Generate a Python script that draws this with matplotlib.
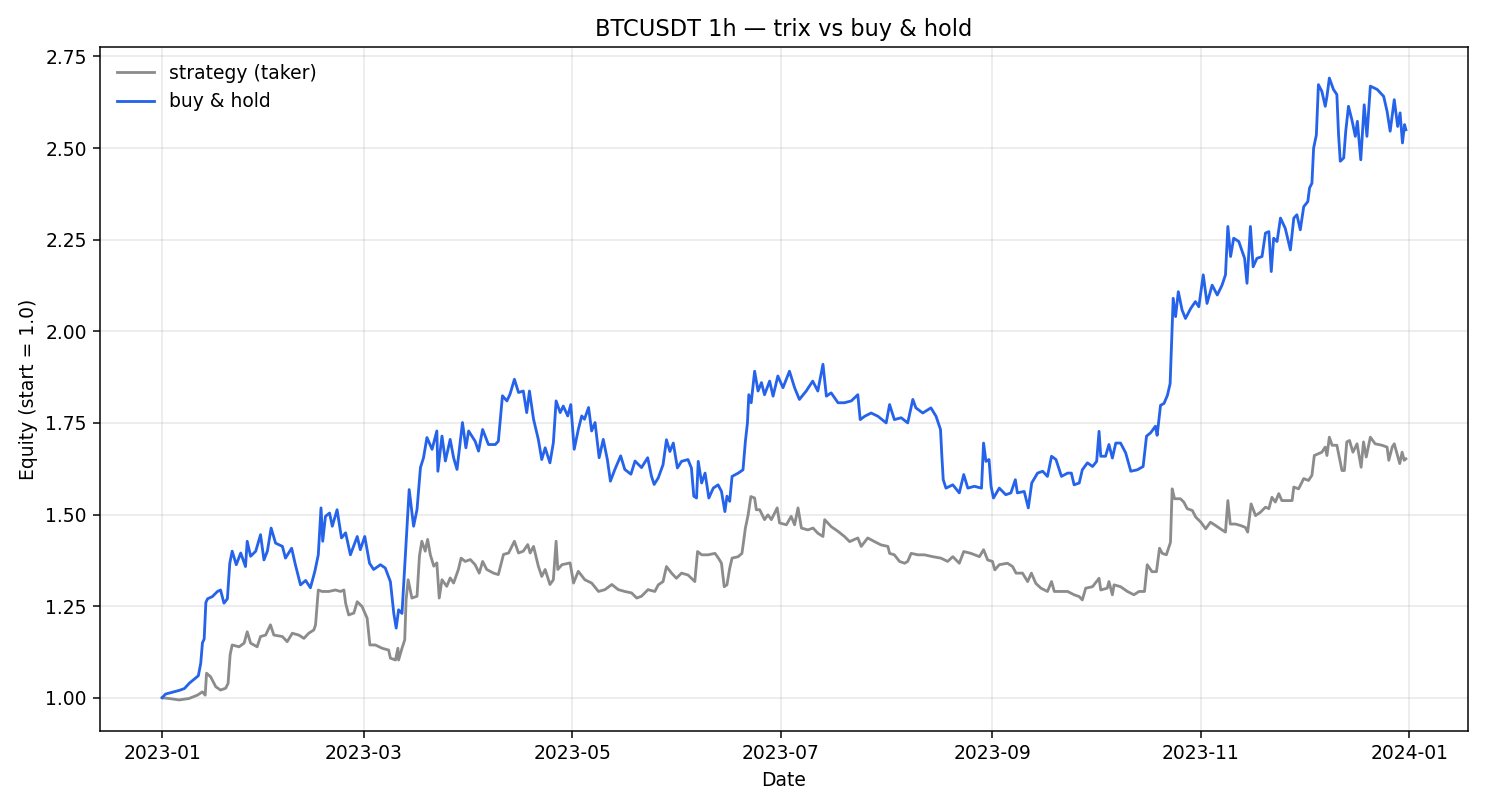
import numpy as np
import pandas as pd
import matplotlib
matplotlib.use("Agg")
import matplotlib.pyplot as plt
import matplotlib.dates as mdates

plt.rcParams['font.family'] = ['DejaVu Sans']

# days since 2023-01-01 00:00 and equity values
bh_days = [0, 1, 3, 5, 6.5, 8, 9.3, 10.6, 11.3, 11.8, 12.3, 12.8, 13.3, 14.7, 16.2, 17.1, 18.1, 19.1,
           19.8, 20.5, 21.7, 23, 24.4, 24.9, 25.9, 27.4, 28.8, 29.8, 30.8, 31.9, 33.2, 35.2, 36.1,
           37.9, 39, 40.5, 42, 43.4, 44.7, 45.7, 46.5, 47, 47.8, 49, 49.8, 51.2, 52.5, 53.7, 55.1,
           57.1, 58, 59.3, 60.7, 61.9, 63.9, 65.3, 66.8, 67.8, 68.5, 69.2, 70.2, 71, 71.7, 72.3,
           73.6, 74.6, 75.6, 76.5, 77.5, 79, 80.4, 80.7, 81.9, 82.9, 84.3, 85.3, 86.3, 87.9, 88.9,
           89.7, 91.6, 92.6, 93.8, 95.5, 97.5, 98.4, 99.6, 100.9, 101.8, 103.1, 104.3, 105.7,
           106.7, 107.5, 108.7, 110.1, 111.1, 112.1, 113.5, 114.5, 115.3, 116.5, 117.4, 118.7,
           119.6, 120.6, 121.8, 122.8, 123.6, 124.8, 125.7, 126.7, 127.9, 129.1, 130.3, 131.2,
           132.5, 134.2, 135.4, 137.2, 138.4, 140.3, 142.1, 143.2, 144,
           145.2, 146.6, 147.6, 148.6, 149.6, 150.8, 152, 153.9, 154.9, 155.6, 156.4, 156.9,
           157.9, 158.9, 160, 161.3, 162.7, 163.7, 164.7, 165.3, 166.1, 166.8, 168.6, 170,
           170.7, 171.3, 171.7, 172.4, 173.4, 174.4, 175.4, 176.3, 177.8, 178.8, 180.2, 181.7,
           183.6, 185.1, 186.5, 188.5, 190.4, 191.9, 193.4, 194.4, 195.8, 197.8, 199.7, 201.7,
           203.6, 204.3, 205.6, 207.5, 209.5, 211.9, 212.9, 214.3, 216.3, 218.2, 219.7,
           220.6, 222.6, 225, 226.5, 227.8, 228.2, 228.6, 229.4, 231.4, 233.3, 234.6, 235.8,
           237.7, 239.8, 240.4, 241.1, 242, 242.6, 243.3, 245, 246.9, 248.4, 249.7, 250.3,
           252.3, 253.5, 254.5, 256.2, 257.7, 259.1, 260.3, 261.6, 263.2, 265, 266.1, 266.9,
           268.4, 269.3, 270.8, 272.3, 273.5, 274.2, 274.7, 276.1, 277.1, 278.1, 279.1, 280.5,
           282, 283.5, 285.4, 287.1, 288.1, 289.3, 290.7,
           291.2, 292.2, 293.2, 294.2, 295, 295.3, 295.6, 295.9, 296.6, 297.4, 298.5, 299.5,
           301, 302.4, 303.4, 304.7, 305.8, 307.3, 308.8, 310.2, 311.2, 311.9, 312.7, 313.6,
           315.1, 316.8, 317.5, 318.5, 319.3, 320.4, 321.9, 322.9, 323.9, 324.6, 325.3, 326.3,
           327.3, 328.7, 330.2, 331.2, 332.1, 333.1, 334.1, 335.3, 335.8, 336.5, 337, 337.8,
           338.4, 339.4, 340.4, 340.9, 341.6, 342.8, 343.8, 344.3, 344.8, 345.8, 346.4, 347.2,
           348.2, 349.2, 349.8, 350.8, 351.8, 352.6, 353.6, 355.6, 357.5, 358.5, 359.4, 360.6,
           361.6, 362.3, 363, 363.6, 364.0]
bh_vals = [1.00, 1.01, 1.015, 1.02, 1.025, 1.04, 1.05, 1.06, 1.094, 1.15, 1.16, 1.26, 1.27, 1.276,
           1.29, 1.294, 1.258, 1.27, 1.367, 1.40, 1.363, 1.395, 1.358, 1.427, 1.386, 1.40, 1.445,
           1.376, 1.40, 1.463, 1.422, 1.413, 1.381, 1.408, 1.363, 1.308, 1.32, 1.30, 1.345, 1.39,
           1.518, 1.427, 1.495, 1.504, 1.468, 1.513, 1.436, 1.45, 1.39, 1.44, 1.404, 1.44, 1.367,
           1.35, 1.363, 1.354, 1.317, 1.23, 1.19, 1.24, 1.23, 1.358, 1.468, 1.568,
           1.468, 1.514, 1.628, 1.655, 1.71, 1.678, 1.728, 1.618, 1.714, 1.646, 1.705, 1.655,
           1.623, 1.751, 1.682, 1.728, 1.70, 1.673, 1.732, 1.691, 1.691, 1.70, 1.824, 1.81,
           1.828, 1.869, 1.833, 1.837, 1.778, 1.837, 1.76, 1.705, 1.65, 1.682, 1.641, 1.696,
           1.81, 1.778, 1.796, 1.769, 1.80, 1.678, 1.732, 1.769, 1.76, 1.792, 1.728, 1.751,
           1.655, 1.705, 1.65, 1.591, 1.623, 1.66, 1.623, 1.61, 1.646, 1.628, 1.655, 1.605, 1.582,
           1.60, 1.636, 1.704, 1.672, 1.695, 1.627, 1.645, 1.65, 1.627, 1.55, 1.545, 1.645,
           1.586, 1.613, 1.545, 1.572, 1.581, 1.563, 1.508, 1.55, 1.536, 1.604, 1.613, 1.622,
           1.70, 1.75, 1.827, 1.805, 1.891, 1.837, 1.86, 1.827, 1.864, 1.823, 1.878, 1.846,
           1.891, 1.846, 1.814, 1.837, 1.864, 1.837, 1.91, 1.823, 1.832, 1.805, 1.805, 1.81,
           1.827, 1.759, 1.768, 1.777, 1.768, 1.75, 1.80, 1.759, 1.764, 1.75, 1.814,
           1.791, 1.777, 1.791, 1.768, 1.732, 1.659, 1.595, 1.572, 1.581, 1.559, 1.609, 1.572,
           1.577, 1.572, 1.695, 1.645, 1.65, 1.577, 1.545, 1.572, 1.554, 1.559, 1.595, 1.559,
           1.563, 1.518, 1.586, 1.613, 1.618, 1.604, 1.659, 1.65, 1.604, 1.613, 1.613, 1.581,
           1.586, 1.622, 1.641, 1.631, 1.645, 1.727, 1.659, 1.659, 1.691, 1.654, 1.695, 1.695,
           1.668, 1.618, 1.622, 1.631, 1.714, 1.723, 1.741,
           1.716, 1.798, 1.803, 1.825, 1.857, 1.935, 2.008, 2.09, 2.04, 2.108, 2.058, 2.035,
           2.062, 2.081, 2.067, 2.154, 2.076, 2.126, 2.099, 2.126, 2.154, 2.286, 2.204, 2.254,
           2.245, 2.199, 2.131, 2.286, 2.176, 2.199, 2.204, 2.268, 2.272, 2.163, 2.254, 2.245,
           2.309, 2.281, 2.222, 2.309, 2.318, 2.277, 2.34, 2.354, 2.391, 2.404, 2.50, 2.536,
           2.673, 2.655, 2.614, 2.641, 2.691, 2.66, 2.646, 2.536, 2.464, 2.473, 2.546, 2.614,
           2.577, 2.532, 2.573, 2.468, 2.618, 2.532, 2.669, 2.66, 2.641, 2.60, 2.546, 2.632,
           2.559, 2.596, 2.514, 2.564, 2.55]

strat_days = [0, 2, 5, 7.9, 10.3, 11.8, 12.6, 13, 14.2, 15.7, 17.1, 18.6, 19.3, 19.9, 20.5, 22.5,
              24, 24.9, 25.9, 27.8, 28.8, 30.3, 31.7, 32.7, 35.2, 36.6, 38.1, 40, 41.5, 42.9,
              44.4, 44.9, 45.7, 46.8, 48.8, 50.7, 52.2, 53.2, 53.7, 54.6, 56.1, 57.1, 58.5, 60,
              60.8, 62.4, 64.4, 66.3, 66.8, 68.3, 69, 69.2, 70.2, 71, 71.4, 72,
              73.1, 74.6, 75.3, 76, 77, 77.7, 78.5, 79.5, 80.4, 81.1, 81.9, 83.3, 84.3, 85.3,
              86.7, 87.5, 88.7, 90.2, 91.6, 92.8, 93.8, 95, 97, 98.4, 99.9, 101.4, 103.1, 104.3,
              105.7, 107, 107.7, 108.7, 110.1, 111.1, 112.1, 113.5, 114.5, 115.3, 115.8, 117,
              119.4, 120.4, 121.8, 123.7, 125.7, 127.7, 129.6, 131.6, 133.5, 135.4, 137.4, 138.9,
              140.3, 142.2, 144.2,
              145.2, 146.6, 147.6, 149.1, 150.5, 152, 153.9, 155.9, 156.7, 157.9, 159.8, 161.8,
              162.8, 163.7, 164.5, 165.3, 166.1, 166.8, 168.6, 169.7, 170.7, 171.5, 172.3, 173.4,
              173.9, 174.9, 176.3, 177.3, 178.3, 180, 180.7, 182.7, 184.1, 185.1, 186.1, 187.1,
              189, 190.5, 191.9, 193.4, 193.9, 195.8, 197.8, 199.7, 201.2, 203.6, 204.6, 206.5,
              208.5, 210.4, 212.4, 212.9, 214.3, 215.8, 217.3,
              218.2, 219.2, 221.2, 223.1, 225.5, 227.9, 229.9, 231.4, 233.3, 234.6, 236.7, 239.2,
              240.4, 241.6, 243, 243.7, 245, 247.4, 248.9, 249.9, 251.8, 253.3, 254.4, 255.7,
              257.2, 259.1, 260.3, 261.1, 263, 265, 266.9, 268.4, 269.3, 270.3, 272.3, 274.2,
              274.7, 276.6, 277.1, 278.1, 278.6, 280.5, 282.5, 284.4, 285.9, 287.5, 288.3, 289.7,
              291, 291.9, 292.7, 293.9,
              295.1, 295.6, 296.3, 298, 299, 300, 301.5, 302.5, 304, 305.4, 306.8, 308.3, 309.7,
              311.2, 311.9, 312.6, 314.1, 315.6, 317, 317.7, 318.7, 320, 321.4, 322.9, 323.9,
              324.8, 325.8, 326.8, 327.7, 329.2, 330.7, 331.2, 332.6, 334.1, 335.5, 336.5, 337.2,
              338.4, 339.4, 340.4, 340.9, 341.6, 342.4, 343.8, 344.6, 345.3, 346, 346.7, 347.5,
              348.5, 349.7, 350.9, 351.6, 352.4, 353.6, 355, 357, 358.5, 359, 360, 360.6, 361.4,
              362.2, 362.9, 363.5, 364.0]
strat_vals = [1.00, 0.998, 0.994, 0.998, 1.007, 1.016, 1.007, 1.067, 1.057, 1.03, 1.021, 1.026,
              1.039, 1.117, 1.144, 1.139, 1.149, 1.18, 1.149, 1.139, 1.167, 1.171, 1.199, 1.171,
              1.167, 1.153, 1.176, 1.171, 1.162, 1.176, 1.185, 1.199, 1.294, 1.29, 1.29, 1.294,
              1.29, 1.294, 1.258, 1.226, 1.231, 1.262, 1.249, 1.217, 1.144, 1.144, 1.135, 1.13,
              1.108, 1.103, 1.135, 1.103, 1.135, 1.158, 1.267, 1.322,
              1.272, 1.277, 1.386, 1.427, 1.40, 1.432, 1.39, 1.359, 1.368, 1.272, 1.322, 1.304,
              1.327, 1.313, 1.35, 1.381, 1.372, 1.377, 1.363, 1.34, 1.372, 1.35, 1.34, 1.336,
              1.391, 1.395, 1.427, 1.395, 1.40, 1.418, 1.395, 1.413, 1.359, 1.331, 1.35, 1.309,
              1.322, 1.427, 1.35, 1.363, 1.368, 1.313, 1.345, 1.322, 1.313, 1.29, 1.295, 1.309,
              1.295, 1.29, 1.286, 1.272, 1.277, 1.295, 1.29,
              1.308, 1.317, 1.358, 1.34, 1.326, 1.34, 1.335, 1.317, 1.399, 1.39, 1.39, 1.394,
              1.381, 1.367, 1.303, 1.308, 1.353, 1.381, 1.385, 1.394, 1.463, 1.499, 1.549, 1.545,
              1.513, 1.513, 1.486, 1.499, 1.486, 1.518, 1.477, 1.472, 1.495, 1.472, 1.518, 1.463,
              1.458, 1.463, 1.449, 1.44, 1.486, 1.467, 1.454, 1.44, 1.426, 1.436, 1.413, 1.436,
              1.426, 1.417, 1.413, 1.394, 1.39, 1.372, 1.367,
              1.372, 1.394, 1.39, 1.39, 1.385, 1.381, 1.372, 1.385, 1.367, 1.399, 1.394, 1.385,
              1.404, 1.376, 1.372, 1.349, 1.363, 1.367, 1.358, 1.34, 1.34, 1.317, 1.34, 1.312,
              1.299, 1.29, 1.317, 1.29, 1.29, 1.29, 1.281, 1.276, 1.267, 1.299, 1.303, 1.326,
              1.294, 1.299, 1.317, 1.281, 1.308, 1.303, 1.29, 1.281, 1.29, 1.29, 1.363, 1.344,
              1.344, 1.408, 1.394, 1.39,
              1.424, 1.57, 1.543, 1.543, 1.534, 1.516, 1.511, 1.493, 1.479, 1.461, 1.479, 1.47,
              1.461, 1.452, 1.538, 1.474, 1.474, 1.47, 1.465, 1.452, 1.529, 1.497, 1.506, 1.52,
              1.516, 1.547, 1.534, 1.557, 1.538, 1.538, 1.538, 1.575, 1.57, 1.598, 1.593, 1.607,
              1.661, 1.666, 1.67, 1.684, 1.661, 1.711, 1.689, 1.689, 1.652, 1.62, 1.62, 1.698,
              1.702, 1.67, 1.693, 1.629, 1.698, 1.657, 1.711, 1.693, 1.689, 1.684, 1.648, 1.684,
              1.693, 1.666, 1.639, 1.67, 1.648, 1.652]

start = pd.Timestamp("2023-01-01")
bh_t = start + pd.to_timedelta(bh_days, unit="D")
strat_t = start + pd.to_timedelta(strat_days, unit="D")

fig, ax = plt.subplots(figsize=(11, 6), dpi=135)
ax.plot(strat_t, strat_vals, color="#8c8c8c", lw=1.5, label="strategy (taker)")
ax.plot(bh_t, bh_vals, color="#2563eb", lw=1.5, label="buy & hold")

ax.set_title("BTCUSDT 1h — trix vs buy & hold")
ax.set_xlabel("Date")
ax.set_ylabel("Equity (start = 1.0)")
ax.xaxis.set_major_locator(mdates.MonthLocator(bymonth=[1, 3, 5, 7, 9, 11]))
ax.xaxis.set_major_formatter(mdates.DateFormatter("%Y-%m"))
ax.grid(True, alpha=0.3)
ax.legend(loc="upper left", frameon=False)

fig.subplots_adjust(left=0.0673, right=0.9886, top=0.942, bottom=0.0975)
plt.savefig("out.png")
